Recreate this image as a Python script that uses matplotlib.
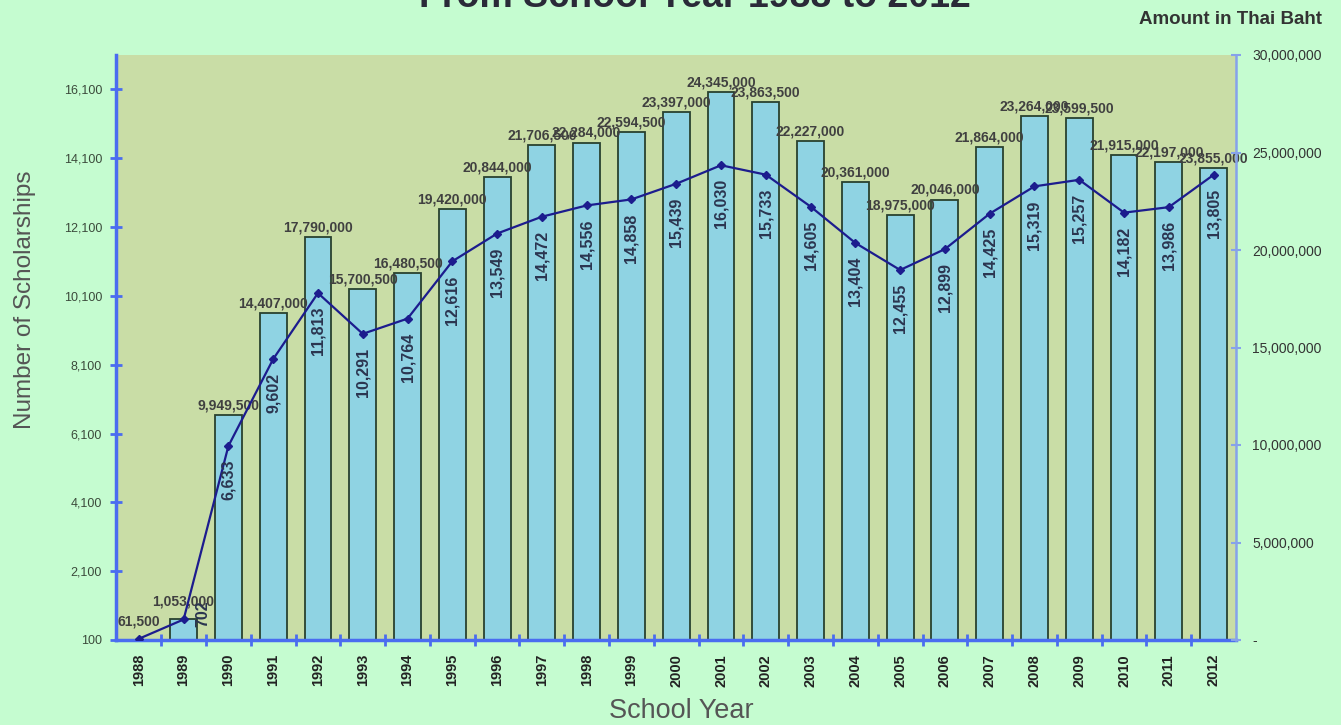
import numpy as np
import matplotlib
matplotlib.use("Agg")
import matplotlib.pyplot as plt
from matplotlib.ticker import FuncFormatter, FixedLocator

plt.rcParams['font.family'] = ['Liberation Sans', 'DejaVu Sans']

years = [str(y) for y in range(1988, 2013)]
# number of scholarships (1988 bar not readable / below axis minimum)
counts = [np.nan, 702, 6633, 9602, 11813, 10291, 10764, 12616, 13549, 14472,
          14556, 14858, 15439, 16030, 15733, 14605, 13404, 12455, 12899, 14425,
          15319, 15257, 14182, 13986, 13805]
# amount in Thai Baht
amounts = [61500, 1053000, 9949500, 14407000, 17790000, 15700500, 16480500,
           19420000, 20844000, 21706500, 22284000, 22594500, 23397000, 24345000,
           23863500, 22227000, 20361000, 18975000, 20046000, 21864000, 23264000,
           23599500, 21915000, 22197000, 23855000]

left_ticks = list(range(100, 16101, 2000))
right_ticks = list(range(0, 30000001, 5000000))

fig_bg = '#c5fcd0'
plot_bg = '#c9dda6'
bar_col = '#8fd3e3'
line_col = '#1c1c8e'
spine_col = '#4a6cf0'

fig = plt.figure(figsize=(13.41, 7.25), dpi=100, facecolor=fig_bg)
ax = fig.add_axes([116 / 1341, 85 / 725, 1120 / 1341, 585 / 725])
ax.set_facecolor(plot_bg)
x = np.arange(len(years))

bar_vals = np.nan_to_num(np.array(counts, dtype=float), nan=0.0)
ax.bar(x, bar_vals - 100, bottom=100, width=0.6, color=bar_col,
       edgecolor='#29412f', linewidth=1.3, zorder=2)

ax.set_xlim(-0.51, 24.5)
ax.set_ylim(100, 17100)
ax.yaxis.set_major_locator(FixedLocator(left_ticks))
ax.yaxis.set_major_formatter(FuncFormatter(lambda v, p: f"{int(v):,}"))
ax.set_xticks(x)
ax.set_xticklabels(years, rotation=90, fontsize=10.5, fontweight='bold', color='#222222')
ax.set_xticks(x[:-1] + 0.5, minor=True)
ax.tick_params(axis='x', which='major', length=0, pad=10)
ax.tick_params(axis='x', which='minor', direction='inout', length=8, width=2, color=spine_col)
ax.tick_params(axis='y', direction='inout', length=8, width=2, color=spine_col,
               labelsize=9, labelcolor='#3b4a3b', pad=6)

for s in ['top', 'right']:
    ax.spines[s].set_visible(False)
for s in ['left', 'bottom']:
    ax.spines[s].set_color(spine_col)
    ax.spines[s].set_linewidth(2.5)

# amount labels above bars
for i, (c, a) in enumerate(zip(counts, amounts)):
    top = 100 if np.isnan(c) else c
    lift = 2 if top > 2000 else 8
    ax.annotate(f"{a:,}", (i, top), xytext=(0, lift), textcoords='offset points',
                ha='center', va='bottom', fontsize=10, fontweight='bold',
                color='#404040', zorder=5)

ax2 = ax.twinx()
ax2.plot(x, amounts, color=line_col, linewidth=1.6, marker='D', markersize=3.6, zorder=4)
ax2.set_ylim(0, 30000000)
ax2.yaxis.set_major_locator(FixedLocator(right_ticks))
ax2.yaxis.set_major_formatter(FuncFormatter(lambda v, p: '-' if v == 0 else f"{int(v):,}"))
ax2.tick_params(axis='y', direction='inout', length=7, width=1.5, color='#86a2ea',
                labelsize=10, labelcolor='#333333', pad=8)
for s in ['top', 'left', 'bottom']:
    ax2.spines[s].set_visible(False)
ax2.spines['right'].set_color('#86a2ea')
ax2.spines['right'].set_linewidth(1.8)

# scholarship counts, rotated, just below the line points
# (moved to the right of the point when there is no room below it)
for i, (c, a) in enumerate(zip(counts, amounts)):
    if np.isnan(c):
        continue
    if a < 3000000:
        ax2.annotate(f"{c:,}", (i, a), xytext=(14, 4), textcoords='offset points',
                     ha='center', va='center', rotation=90, fontsize=11.5,
                     fontweight='bold', color='#2b3550', zorder=6)
    else:
        ax2.annotate(f"{c:,}", (i, a), xytext=(0, -10), textcoords='offset points',
                     ha='center', va='top', rotation=90, fontsize=11.5,
                     fontweight='bold', color='#2b3550', zorder=6)

fig.text(695 / 1341, 1 - 7 / 725, "From School Year 1988 to 2012", ha='center',
         va='baseline', fontsize=27, fontweight='bold', color='#2a2a38')
fig.text(1322 / 1341, 1 - 20 / 725, "Amount in Thai Baht", ha='right', va='center',
         fontsize=13.5, fontweight='bold', color='#333333')
fig.text(25 / 1341, 1 - 300 / 725, "Number of Scholarships", rotation=90,
         ha='center', va='center', fontsize=17.5, color='#555555')
fig.text(681 / 1341, 1 - 711 / 725, "School Year", ha='center', va='center',
         fontsize=19.5, color='#555555')

fig.savefig("out.png", dpi=100, facecolor=fig_bg)
